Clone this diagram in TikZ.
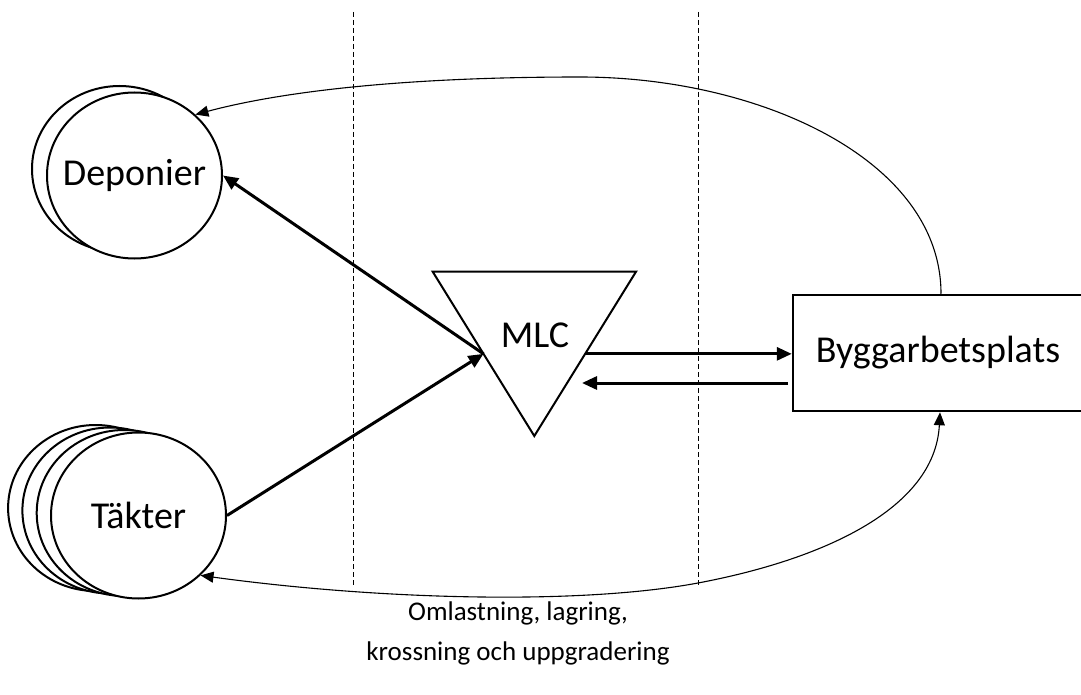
\documentclass[tikz,border=0pt]{standalone}
\usepackage{fontspec}
\setmainfont{Carlito}
\usetikzlibrary{shapes.geometric,arrows.meta,calc}
\begin{document}
\begin{tikzpicture}[x=1pt,y=-1pt,
  site/.style={ellipse,draw,line width=2pt,fill=white,minimum width=175pt,minimum height=166pt,inner sep=0pt},
  sitetext/.style={label={[font=\fontsize{38}{44}\selectfont]center:#1}},
  bigbox/.style={rectangle,draw,line width=2.5pt,minimum width=290pt,minimum height=116pt,inner sep=0pt,font=\fontsize{38}{44}\selectfont},
  flow/.style={line width=3pt,-{Triangle[length=15pt,width=13pt]}},
  thinflow/.style={line width=1.1pt,-{Triangle[length=13pt,width=11pt]}},
  divider/.style={line width=1pt,dash pattern=on 5pt off 3pt},
  caption/.style={align=center,font=\fontsize{27}{40}\selectfont}]
\useasboundingbox (0,0) rectangle (1081,695);
% dividers
\draw[divider] (353,12) -- (353,586);
\draw[divider] (698,12) -- (698,586);
% Deponier
\node[site] (dep2) at (119.5,169) {};
\node[site,sitetext=Deponier] (dep) at (134.5,175.5) {};
% Taekter
\node[site] (tak4) at (95.6,508) {};
\node[site] (tak3) at (109.9,510.5) {};
\node[site] (tak2) at (124.2,513) {};
\node[site,sitetext=Täkter] (tak) at (138.5,515.5) {};
% MLC triangle
\coordinate (t1) at (432.7,271.7);
\coordinate (t2) at (636,271.7);
\coordinate (t3) at (534.3,436);
\draw[line width=2pt,line join=miter] (t1) -- (t2) -- (t3) -- cycle;
\node[font=\fontsize{38}{44}\selectfont] (mlc) at (535,335) {MLC};
\coordinate (mlcL) at ($(t1)!0.5!(t3)$);
\coordinate (mlcR) at ($(t2)!0.5!(t3)$);
\coordinate (mlcIn) at (582,383);
% Byggarbetsplats
\node[bigbox] (byg) at (938,353) {Byggarbetsplats};
\coordinate (bygOut) at (788,383);
\coordinate (bygTop) at ([xshift=3pt]byg.north);
\coordinate (bygBot) at ([xshift=2pt]byg.south);
% caption
\node[caption] (cap) at (518,633) {Omlastning, lagring,\\krossning och uppgradering};
% connectors
\draw[flow] (mlcL) -- (dep.east);
\draw[flow] (tak.east) -- (mlcL);
\draw[flow] (mlcR) -- (mlcR -| byg.west);
\draw[flow] (bygOut) -- (mlcIn);
\draw[thinflow] (bygTop) .. controls (941,160) and (760,77) .. (580,77)
  .. controls (400,77) and (280,92) .. (dep.45);
\draw[thinflow,{Triangle[length=13pt,width=11pt]}-{Triangle[length=13pt,width=11pt]}]
  (tak.-44) .. controls (380,600) and (580,605) .. (698,583)
  .. controls (820,560) and (935,510) .. (bygBot);
\end{tikzpicture}
\end{document}
